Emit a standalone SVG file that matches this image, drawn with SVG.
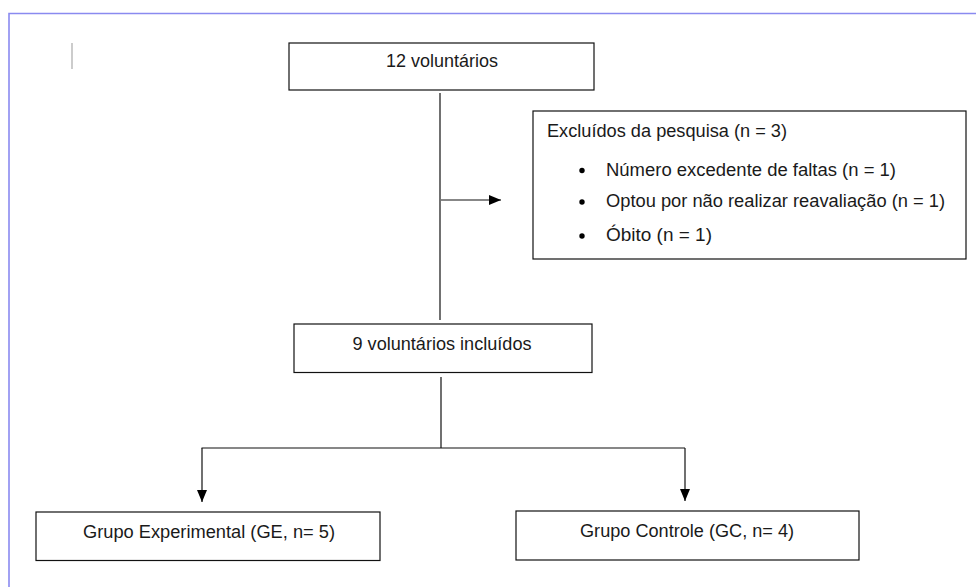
<svg xmlns="http://www.w3.org/2000/svg" width="976" height="587" viewBox="0 0 976 587">
<style>
.box{fill:#fff;stroke:#111;stroke-width:1.2}
.t{font-family:"Liberation Sans",Arial,sans-serif;font-size:17.5px;fill:#1a1a1a}
.c{text-anchor:middle}
.ln{stroke:#111;stroke-width:1.2;fill:none}
</style>
<defs>
<marker id="ah" viewBox="0 0 12 10" refX="12" refY="5" markerWidth="12" markerHeight="10" markerUnits="userSpaceOnUse" orient="auto">
<path d="M0,0 L12,5 L0,10 Z" fill="#000"/>
</marker>
</defs>
<rect width="976" height="587" fill="#fff"/>
<path d="M9,587 V13.5 H976" fill="none" stroke="#8a8af0" stroke-width="1.6"/>
<line x1="72" y1="43" x2="72" y2="69" stroke="#999" stroke-width="1"/>
<g id="connectors">
<line class="ln" x1="440" y1="93" x2="440" y2="320"/>
<line class="ln" x1="441" y1="200" x2="501" y2="200" marker-end="url(#ah)"/>
<line class="ln" x1="441" y1="377" x2="441" y2="448"/>
<line class="ln" x1="201.5" y1="448" x2="685" y2="448"/>
<line class="ln" x1="202" y1="448" x2="202" y2="502" marker-end="url(#ah)"/>
<line class="ln" x1="685" y1="448" x2="685" y2="501" marker-end="url(#ah)"/>
</g>
<g id="n1">
<rect class="box" x="289" y="43" width="305" height="47"/>
<text class="t c" x="442" y="67" textLength="112" lengthAdjust="spacingAndGlyphs">12 voluntários</text>
</g>
<g id="n2">
<rect class="box" x="533" y="111" width="433" height="148"/>
<text class="t" x="547" y="137" textLength="240" lengthAdjust="spacingAndGlyphs">Excluídos da pesquisa (n = 3)</text>
<circle cx="582" cy="170.5" r="2.7" fill="#000"/>
<circle cx="582" cy="202" r="2.7" fill="#000"/>
<circle cx="582" cy="236" r="2.7" fill="#000"/>
<text class="t" x="606" y="175.5" textLength="290" lengthAdjust="spacingAndGlyphs">Número excedente de faltas (n = 1)</text>
<text class="t" x="606" y="207" textLength="339" lengthAdjust="spacingAndGlyphs">Optou por não realizar reavaliação (n = 1)</text>
<text class="t" x="606" y="241" textLength="106" lengthAdjust="spacingAndGlyphs">Óbito (n = 1)</text>
</g>
<g id="n3">
<rect class="box" x="294" y="324" width="298" height="48.5"/>
<text class="t c" x="442" y="350" textLength="179" lengthAdjust="spacingAndGlyphs">9 voluntários incluídos</text>
</g>
<g id="n4">
<rect class="box" x="36" y="512" width="344" height="48.5"/>
<text class="t c" x="209" y="537.5" textLength="252" lengthAdjust="spacingAndGlyphs">Grupo Experimental (GE, n= 5)</text>
</g>
<g id="n5">
<rect class="box" x="516" y="511" width="343" height="49"/>
<text class="t c" x="687" y="537" textLength="214" lengthAdjust="spacingAndGlyphs">Grupo Controle (GC, n= 4)</text>
</g>
</svg>
